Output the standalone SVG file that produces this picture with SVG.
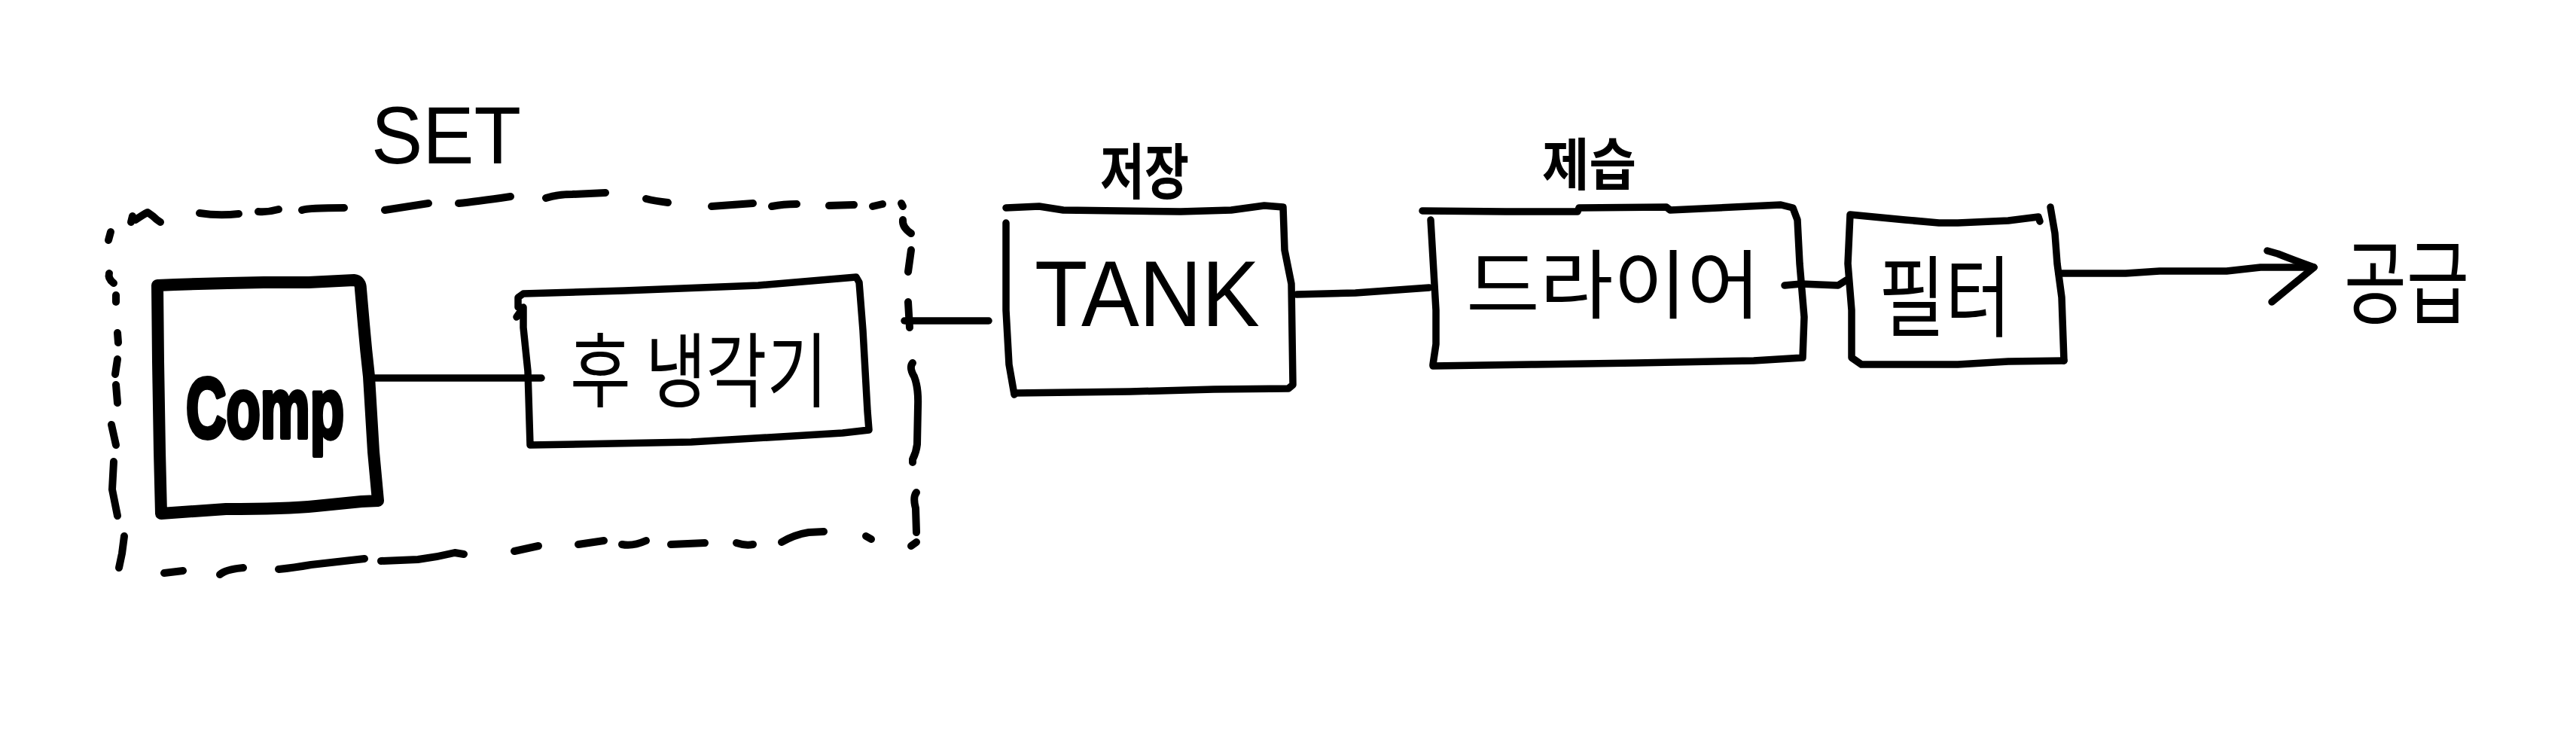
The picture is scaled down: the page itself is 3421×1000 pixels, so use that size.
<svg xmlns="http://www.w3.org/2000/svg" width="3421" height="1000" viewBox="0 0 3421 1000">
<style>
  .ln { fill: none; stroke: #000; stroke-linecap: round; stroke-linejoin: round; }
  .thin { stroke-width: 9.5; }
  .thick { stroke-width: 16; }
  .dash { stroke-width: 10; }
  .ko { font-family: "Noto Sans CJK KR", "Noto Sans", sans-serif; fill: #000; }
  .lat { font-family: "Liberation Sans", Arial, sans-serif; fill: #000; }
</style>
<rect width="3421" height="1000" fill="#fff"/>

<g id="set-group">
  <text class="lat" x="493" y="217" font-size="108" textLength="199" lengthAdjust="spacingAndGlyphs">SET</text>
  <g class="ln dash">
    <path d="M147 308 L144 319"/>
    <path d="M174 295 L176 287 M180 292 Q190 285 196 282 L203 287 Q208 292 213 295"/>
    <path d="M265 283 Q290 287 317 284"/>
    <path d="M343 281 Q356 282 370 278"/>
    <path d="M401 279 Q410 276 457 276"/>
    <path d="M511 279 L569 270"/>
    <path d="M609 270 Q630 268 678 261"/>
    <path d="M725 263 Q740 258 760 258 L804 256"/>
    <path d="M858 264 Q870 267 887 269"/>
    <path d="M945 274 L1000 270"/>
    <path d="M1025 274 Q1040 271 1058 271"/>
    <path d="M1101 273 L1134 272"/>
    <path d="M1159 274 L1172 271"/>
    <path d="M1197 270 L1199 274"/>
    <path d="M1199 292 Q1198 302 1210 310"/>
    <path d="M1210 332 L1206 361"/>
    <path d="M1206 401 L1208 435"/>
    <path d="M1212 482 Q1207 488 1214 500 Q1220 515 1219 540 L1218 590 Q1217 600 1212 610 L1212 614"/>
    <path d="M1217 654 Q1212 660 1216 675 L1217 707"/>
    <path d="M1217 720 L1210 725"/>
    <path d="M1150 712 L1157 716"/>
    <path d="M1038 720 Q1055 710 1074 707 L1094 706"/>
    <path d="M978 721 Q990 725 1000 723"/>
    <path d="M891 723 L936 721"/>
    <path d="M826 723 Q840 726 858 718"/>
    <path d="M768 723 L802 718"/>
    <path d="M683 732 L715 725"/>
    <path d="M506 745 L555 743 Q580 740 604 734 L616 736"/>
    <path d="M370 756 Q390 754 413 750 L484 742"/>
    <path d="M292 763 Q300 756 323 754"/>
    <path d="M218 761 L243 758"/>
    <path d="M158 754 L162 735 L165 712"/>
    <path d="M156 685 L149 650 L151 613"/>
    <path d="M154 591 L148 564"/>
    <path d="M156 535 L154 511"/>
    <path d="M156 477 L153 497"/>
    <path d="M156 442 L157 455"/>
    <path d="M154 392 L154 401"/>
    <path d="M145 363 Q143 370 151 376"/>
  </g>
</g>

<g id="node-comp">
  <path class="ln thick" d="M209 379 Q280 376 350 375 L410 375 L470 372 Q479 373 479 384 L483 430 Q486 465 490 500 L496 600 L502 665 L480 666 L420 672 Q380 676 300 676 L214 682 L212 600 L210 480 L209 379 Z"/>
  <text class="lat" x="247" y="581" font-size="114" font-weight="bold" stroke="#000" stroke-width="6" stroke-linejoin="round" textLength="210" lengthAdjust="spacingAndGlyphs">Comp</text>
</g>

<g id="node-aftercooler">
  <path class="ln thin" d="M688 408 L688 395 L695 390 L829 386 L1007 379 L1137 368 L1141 375 L1146 439 L1152 546 L1154 571 L1119 575 L918 587 L704 591 L701 493 L695 435 L695 408 L686 421"/>
  <text class="ko" x="757" y="532" font-size="108" textLength="342" lengthAdjust="spacingAndGlyphs">후 냉각기</text>
</g>

<g id="node-tank">
  <path class="ln thin" d="M1336 276 L1380 274 L1412 279 L1568 281 L1635 279 L1679 273 L1704 275 L1706 332 L1715 377 L1717 511 L1711 516 L1612 517 L1501 520 L1347 522"/>
  <path class="ln thin" d="M1336 296 L1336 412 L1340 484 L1347 524"/>
  <text class="lat" x="1374" y="433" font-size="124" textLength="299" lengthAdjust="spacingAndGlyphs">TANK</text>
  <text class="ko" x="1461" y="257" font-size="80" font-weight="bold" textLength="118" lengthAdjust="spacingAndGlyphs">저장</text>
</g>

<g id="node-dryer">
  <path class="ln thin" d="M1889 280 L2000 281 L2095 281 L2097 276 L2213 275 L2218 279 L2365 272 L2381 276 L2387 292 L2390 350 L2396 421 L2394 475 L2329 479 L2173 482 L2039 484 L1903 486"/>
  <path class="ln thin" d="M1900 292 L1907 412 L1907 457 L1903 484"/>
  <text class="ko" x="1947" y="415" font-size="100" textLength="391" lengthAdjust="spacingAndGlyphs">드라이어</text>
  <text class="ko" x="2048" y="246" font-size="75" font-weight="bold" textLength="125" lengthAdjust="spacingAndGlyphs">제습</text>
</g>

<g id="node-filter">
  <path class="ln thin" d="M2709 294 L2707 288 L2667 293 L2600 296 L2575 296 L2530 292 L2457 285 L2454 350 L2459 412 L2459 475 L2472 484 L2600 484 L2667 480 L2741 479"/>
  <path class="ln thin" d="M2723 275 L2729 310 L2732 350 L2738 395 L2741 479"/>
  <text class="ko" x="2495" y="438" font-size="118" textLength="176" lengthAdjust="spacingAndGlyphs">필터</text>
</g>

<g id="node-supply">
  <text class="ko" x="3113" y="420" font-size="122" textLength="166" lengthAdjust="spacingAndGlyphs">공급</text>
</g>

<g id="connectors" class="ln thin">
  <path d="M493 502 L719 502"/>
  <path d="M1201 426 L1313 426"/>
  <path d="M1722 391 L1800 389 L1898 382"/>
  <path d="M2370 379 L2392 377 L2441 379 L2452 372"/>
  <path d="M2734 363 L2823 363 L2868 360 L2957 360 L3002 355 L3073 355"/>
  <path d="M3011 333 L3025 337 Q3045 345 3073 355 L3017 401"/>
</g>
</svg>
